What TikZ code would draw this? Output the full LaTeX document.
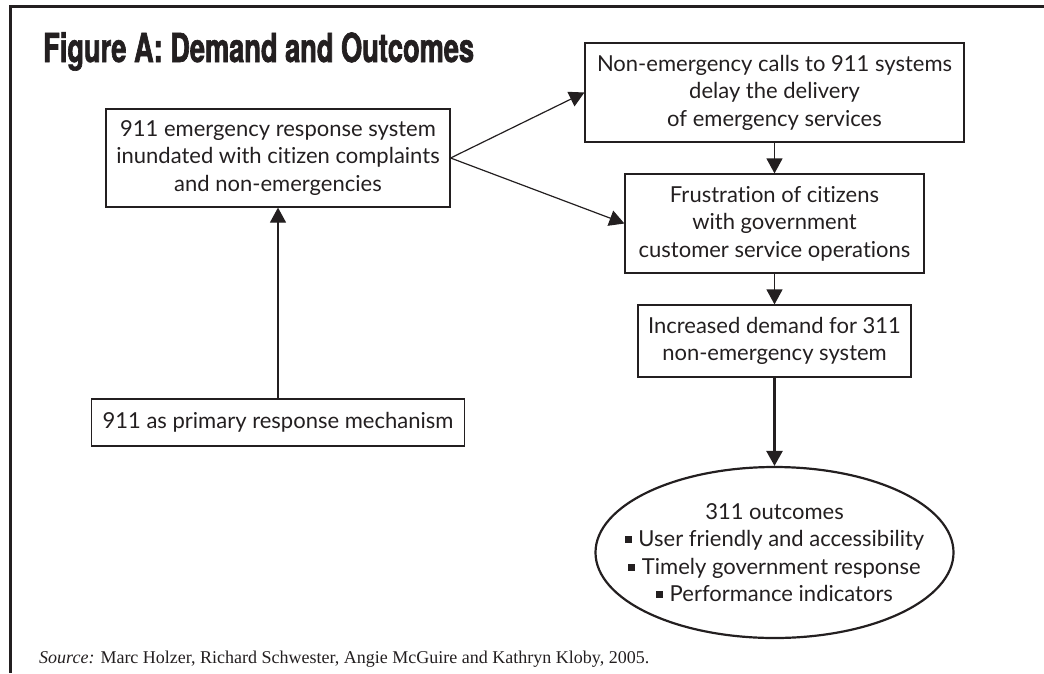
\documentclass[tikz,border=0pt]{standalone}
\usepackage{fontspec}
\usepackage{xcolor}
\setmainfont[RawFeature=-liga]{Lato}
\newfontfamily\titlefont[FakeStretch=0.68,FakeBold=1.6]{TeX Gyre Heros}
\newfontfamily\srcfont{Liberation Serif}
\usetikzlibrary{arrows.meta,shapes.geometric}

\definecolor{ink}{HTML}{231F20}
\newcommand{\sqbul}{\rule[0.16em]{0.32em}{0.32em}\hspace{0.3em}}

\tikzset{
  box/.style={draw=ink, text=ink, line width=1.2pt, align=center, inner sep=0pt,
    font=\fontsize{22}{27.5}\selectfont},
  link/.style={-{Triangle[width=16pt,length=15pt]}, line width=1.2pt, ink},
}

\begin{document}
\begin{tikzpicture}[x=1pt,y=-1pt]
      \useasboundingbox (0,0) rectangle (1044,673);

      % frame and title
      \draw[line width=3pt, ink] (1044,6.5) -- (10,6.5) -- (10,673);
      \node[anchor=base west, inner sep=0pt, text=ink,
        font=\titlefont\bfseries\fontsize{40}{40}\selectfont] (title) at (43,62)
        {Figure A: Demand and Outcomes};

      % boxes
      \node[box, minimum width=344pt, minimum height=98pt] (resp) at (278,158)
        {911 emergency response system\\inundated with citizen complaints\\and non-emergencies};
      \node[box, minimum width=373pt, minimum height=47pt] (prim) at (278,422.5)
        {911 as primary response mechanism};
      \node[box, minimum width=379pt, minimum height=99pt] (delay) at (774.5,92.5)
        {Non-emergency calls to 911 systems\\delay the delivery\\of emergency services};
      \node[box, minimum width=299pt, minimum height=99pt] (frus) at (774.5,223.5)
        {Frustration of citizens\\with government\\customer service operations};
      \node[box, minimum width=273pt, minimum height=72pt] (demand) at (774.5,341)
        {Increased demand for 311\\non-emergency system};

      % outcomes
      \node[box, ellipse, line width=2.2pt, inner xsep=-45pt, inner ysep=-25pt,
        minimum width=358pt, minimum height=171pt] (outc) at (774.5,552.5)
        {311 outcomes\\\sqbul User friendly and accessibility\\\sqbul Timely government response\\\sqbul Performance indicators};

      % arrows
      \draw[link] (prim) -- (resp);
      \draw[link] (resp.east) -- (delay.west);
      \draw[link] (resp.east) -- (frus.west);
      \draw[link] (delay) -- (frus);
      \draw[link] (frus) -- (demand);
      \draw[link, line width=2.5pt] (demand) -- (outc);

      % source
      \node[anchor=base west, inner sep=0pt, text=ink,
        font=\srcfont\fontsize{18}{22}\selectfont] (src) at (39,663)
        {\textit{Source:} Marc Holzer, Richard Schwester, Angie McGuire and Kathryn Kloby, 2005.};
\end{tikzpicture}
\end{document}
